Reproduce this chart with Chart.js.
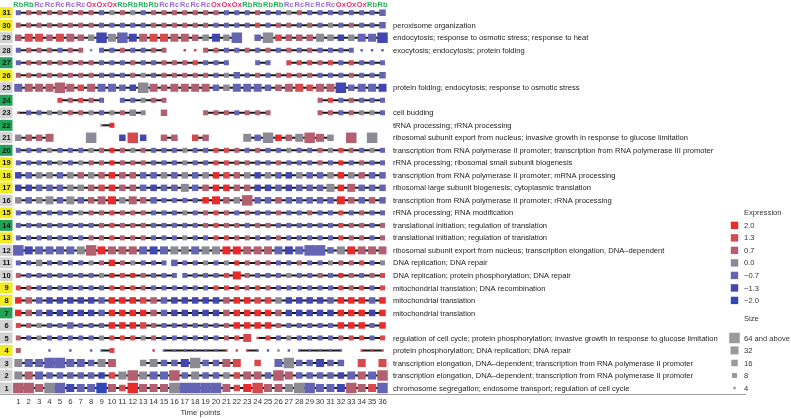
<!DOCTYPE html>
<html>
<head>
<meta charset="utf-8">
<script src="https://cdn.jsdelivr.net/npm/chart.js@4.4.1/dist/chart.umd.min.js"></script>
<style>
  html, body { margin: 0; padding: 0; background: #fff; }
</style>
</head>
<body>
<canvas id="clusterChart" width="791" height="418"></canvas>
<script>
const timePoints = [1,2,3,4,5,6,7,8,9,10,11,12,13,14,15,16,17,18,19,20,21,22,23,24,25,26,27,28,29,30,31,32,33,34,35,36];
const phases = ['Rb','Rb','Rc','Rc','Rc','Rc','Rc','Ox','Ox','Ox','Rb','Rb','Rb','Rb','Rc','Rc','Rc','Rc','Rc','Ox','Ox','Ox',
                'Rb','Rb','Rb','Rb','Rc','Rc','Rc','Rc','Rc','Ox','Ox','Ox','Rb','Rb'];
const clusterIds = [31,30,29,28,27,26,25,24,23,22,21,20,19,18,17,16,15,14,13,12,11,10,9,8,7,6,5,4,3,2,1];

// label tint of each cluster, cluster 1 first
const clusterGroups = ['gray','gray','gray','yellow','gray','gray','green','yellow','yellow','gray','gray','gray','yellow','green','yellow',
                       'gray','yellow','yellow','yellow','green','gray','green','gray','green','gray','yellow','green','gray','gray','yellow','yellow'];

// GO terms of each cluster, cluster 1 first
const clusterTerms = [
  'chromosome segregation; endosome transport; regulation of cell cycle',
  'transcription elongation, DNA\u2013dependent; transcription from RNA polymerase II promoter',
  'transcription elongation, DNA\u2013dependent; transcription from RNA polymerase II promoter',
  'protein phosphorylation; DNA replication; DNA repair',
  'regulation of cell cycle; protein phosphorylation; invasive growth in response to glucose limitation',
  '',
  'mitochondrial translation',
  'mitochondrial translation',
  'mitochondrial translation; DNA recombination',
  'DNA replication; protein phosphorylation; DNA repair',
  'DNA replication; DNA repair',
  'ribosomal subunit export from nucleus; transcription elongation, DNA\u2013dependent',
  'translational initiation; regulation of translation',
  'translational initiation; regulation of translation',
  'rRNA processing; RNA modification',
  'transcription from RNA polymerase II promoter; rRNA processing',
  'ribosomal large subunit biogenesis; cytoplasmic translation',
  'transcription from RNA polymerase II promoter; mRNA processing',
  'rRNA processing; ribosomal small subunit biogenesis',
  'transcription from RNA polymerase II promoter; transcription from RNA polymerase III promoter',
  'ribosomal subunit export from nucleus; invasive growth in response to glucose limitation',
  'tRNA processing; rRNA processing',
  'cell budding',
  '',
  'protein folding; endocytosis; response to osmotic stress',
  '',
  '',
  'exocytosis; endocytosis; protein folding',
  'endocytosis; response to osmotic stress; response to heat',
  'peroxisome organization',
  ''
];

const exprLevels = [2.0, 1.3, 0.7, 0.0, -0.7, -1.3, -2.0];
const exprLabels = ['2.0', '1.3', '0.7', '0.0', '\u22120.7', '\u22121.3', '\u22122.0'];
const exprCodes = { R: 2.0, r: 1.3, m: 0.7, g: 0.0, b: -0.7, B: -1.3, D: -2.0 };
const sizeLevels = [64, 32, 16, 8, 4];
const sizeLabels = ['64 and above', '32', '16', '8', '4'];
const sizeCodes = { '1': 4, '2': 8, '3': 16, '4': 32, '5': 64 };

// mean expression per time point, one code per point ('.' = cluster not present)
const exprRows = {
  31: 'bmmmmmmmbgmgbmmmmm' + 'mmbbbmbbgmbbbbbbbb',
  30: 'mmmmmmmmbbbbbmmmmm' + 'mbbbbrbmmbmbgbmbbb',
  29: 'mrrmrmmgBgbBmrrmmm' + 'gBgb.bgrmmmggBgbbB',
  28: 'bmmmbmmgbbmbbmm.rr' + 'mmbbmbmbmbmbbbbbbb',
  27: 'bmmmmmmmbbbmbbmmmr' + 'bbb..bb.rrrmrbrbbb',
  26: 'mmmmmmmmbbbmgbmmmm' + 'mbgbbmbmrmmbbbmbbb',
  25: 'bmmmmmrmbbbBgmmmmm' + 'mbgbbbbmmrrmmBbbbB',
  24: '....rmrmb.bbgmm...' + '...........mrbmbbb',
  23: 'rbbggmmgbgmgg.m...' + 'mmmbmmm....mmbmggb',
  22: '........gR........' + '..................',
  21: 'gmmm...g..BrB.mm.r' + 'm...gbgRmgmmg.m.g.',
  20: 'bbbgbbbgmRmgmbbbgb' + 'brrmbmbbgbbmgrmbgb',
  19: 'bbbbgbgmmRmmmbbbgb' + 'brrmmbbmbbbmbRbmbb',
  18: 'BbggbgmgmRmmbbgbgb' + 'gRrmgBgbBgbbgRgmbb',
  17: 'BBbbbggmrRmmbBbbgb' + 'mRRmmBBbBbbbgRmbbb',
  16: 'gbggbgbmmRgmmbbbbb' + 'RRmgmbbmbbbbbRmbmb',
  15: 'bbbbbbgmmrmmmbbbgb' + 'mrmbmbbmbbmbbrbmbb',
  14: 'bbbbbbbbmrmmmbbbbb' + 'mrmmbmmbbbbbbrmmbm',
  13: 'bbbbbbbmmrmmmbbbgb' + 'brrmmbbmbbbbbrmmbm',
  12: 'bBbbbbgmRmmmbBbggb' + 'ggRRmmmbBbbbbgRmmm',
  11: 'bbgbbbbgmRmgbbbbbb' + 'gbgRmmmbbmbbgmmrbg',
  10: 'mbbbbbbbgRrRmbbbbb' + 'bbrRmbbbgbbmbRmbmr',
  9:  'rmbbbbbbbrrrmbbbbb' + 'brrrmrmbbbbbbrmrbr',
  8:  'RmbBBBBBbRRRrmbBBB' + 'BBmRRrrgBBBBbRRRbR',
  7:  'RmbBBBBBbRRRRmbBBB' + 'BBmRRRRmBBBBBRRRBR',
  6:  'rmgbbbbbbRRRrmbbbb' + 'bbmRRRRmbbbbbRRRbR',
  5:  'mbgbbbbbgrrrgmbbbb' + 'bbmrrrrbgbbbbmrrbr',
  4:  'm..b.b.bbr...rbbbb' + 'bbrrrbbgbbbbbb.rrr',
  3:  'gbbbbbbbgm..ggbbBg' + 'bbmr.r.bgbbBbb.r.r',
  2:  'gmbbbbbbBrgmgbbmbg' + 'bbgrmmbmmbbbbBbmbm',
  1:  'mmmgbBbbDmrRmmmgbb' + 'bbmrRrmmggbbbBmmrb'
};

// number of genes per time point, coded by size class
const sizeRows = {
  31: '222222222222222222' + '222222222222222223',
  30: '222222222222222222' + '222222222222222223',
  29: '344344335454444443' + '3435.3533334333445',
  28: '222222212222222.11' + '222222222222222111',
  27: '222222222222222222' + '222..22.2222222222',
  26: '222222222222222222' + '222322222222222223',
  25: '444454344433543444' + '433444334434453444',
  24: '....22222.22222...' + '...........2222222',
  23: '1222222222232.3...' + '2222222....2222222',
  22: '........12........' + '..................',
  21: '3334...5..353.33.3' + '3...435334543.5.5.',
  20: '222222222222222222' + '222222222222222222',
  19: '222222222222222222' + '222222222222222222',
  18: '333333333333333333' + '333333333333333333',
  17: '333333333333333343' + '333333333333434333',
  16: '333434334434332222' + '343353333333343333',
  15: '222222222222222222' + '222222222222222222',
  14: '222222222222222222' + '222222222222222222',
  13: '222222222222222222' + '222222222222222222',
  12: '544444454444444444' + '444444444455344444',
  11: '223222222322222322' + '222222222222222222',
  10: '222222222222222222' + '222422222222222222',
  9:  '222222222222222222' + '222222222222222222',
  8:  '333333333333333333' + '333333333333333333',
  7:  '333333333333333333' + '333333333333333333',
  6:  '222223222333322222' + '222333322222233323',
  5:  '222222222222222222' + '222241222222222222',
  4:  '2..1.1.112...11111' + '11111111111111.111',
  3:  '4445544344..343345' + '3344.3.4533433.4.4',
  2:  '444333333345444534' + '333344354333334445',
  1:  '554554445435444555' + '554345444554445445'
};

// time points after which the cluster track is interrupted
const lineBreaks = {
  28: [7, 8, 17, 18, 33, 34, 35],
  21: [11, 12],
  11: [15],
  10: [16],
  5: [23],
  4: [8, 14, 21, 22, 24, 25, 26, 27]
};

const exprPalette = ['#ea2b2b', '#d64a4e', '#b25f70', '#8c8b95', '#6364b3', '#4247b0', '#2f4ab6'];
const sizeSide = { 4: 2.5, 8: 5, 16: 6.5, 32: 8, 64: 10.5 };
const groupColors = { yellow: '#f0ea22', green: '#21a257', gray: '#d2d2d2' };
const phaseColors = { Rb: '#2bae5e', Rc: '#9a6bd0', Ox: '#e8306a' };
const FONT = '"Liberation Sans", Arial, sans-serif';

function colorFor(v) {
  return exprPalette[exprLevels.indexOf(v)];
}

const datasets = [];
clusterIds.forEach(c => {
  const ex = exprRows[c], sz = sizeRows[c], br = lineBreaks[c] || [];
  const squares = [], track = [];
  for (let i = 0; i < timePoints.length; i++) {
    if (ex[i] === '.') continue;
    const t = timePoints[i];
    squares.push({ x: t, y: c, v: exprCodes[ex[i]], s: sizeCodes[sz[i]] });
    track.push({ x: t, y: c });
    if (i === timePoints.length - 1 || ex[i + 1] === '.' || br.includes(t)) {
      track.push({ x: t + 0.5, y: null });
    }
  }
  datasets.push({
    type: 'scatter',
    data: squares,
    order: 0,
    showLine: false,
    clip: false,
    pointStyle: 'rect',
    pointBorderWidth: 0,
    pointRadius: ctx => ctx.raw ? sizeSide[ctx.raw.s] * Math.SQRT1_2 : 3,
    pointBackgroundColor: ctx => ctx.raw ? colorFor(ctx.raw.v) : '#888'
  });
  datasets.push({
    type: 'line',
    data: track,
    order: 1,
    showLine: true,
    spanGaps: false,
    clip: false,
    borderColor: '#1b1b1b',
    borderWidth: 2,
    pointRadius: 0
  });
});

const overlay = {
  id: 'overlay',
  afterDraw(chart) {
    const { ctx, scales: { x, y } } = chart;
    ctx.save();

    // phase labels on top
    ctx.textAlign = 'center';
    ctx.textBaseline = 'middle';
    ctx.font = 'bold 7.5px ' + FONT;
    phases.forEach((p, i) => {
      ctx.fillStyle = phaseColors[p];
      ctx.fillText(p, x.getPixelForValue(timePoints[i]), 4.5);
    });

    // cluster number boxes
    clusterIds.forEach(c => {
      const py = y.getPixelForValue(c);
      ctx.fillStyle = groupColors[clusterGroups[c - 1]];
      ctx.fillRect(0, py - 5.5, 12.5, 11);
      ctx.fillStyle = '#111';
      ctx.fillText(String(c), 6.5, py + 0.5);
    });

    // GO term annotations
    ctx.textAlign = 'left';
    ctx.font = '7.6px ' + FONT;
    ctx.fillStyle = '#222';
    clusterIds.forEach(c => {
      const term = clusterTerms[c - 1];
      if (term) ctx.fillText(term, 393, y.getPixelForValue(c) + 0.5);
    });

    // bottom rule
    ctx.strokeStyle = '#a0a0a0';
    ctx.lineWidth = 1;
    ctx.beginPath();
    ctx.moveTo(0, 394.5);
    ctx.lineTo(746, 394.5);
    ctx.stroke();

    // expression legend
    const lx = 734.5, tx = 744;
    ctx.font = '7.6px ' + FONT;
    ctx.fillStyle = '#333';
    ctx.fillText('Expression', tx, y.getPixelForValue(15));
    exprLevels.forEach((v, k) => {
      const py = y.getPixelForValue(14 - k);
      ctx.fillStyle = exprPalette[k];
      ctx.fillRect(lx - 3.7, py - 3.7, 7.4, 7.4);
      ctx.fillStyle = '#333';
      ctx.fillText(exprLabels[k], tx, py + 0.5);
    });

    // size legend
    ctx.fillText('Size', tx, y.getPixelForValue(6.5));
    sizeLevels.forEach((s, k) => {
      const py = y.getPixelForValue(5 - k);
      const side = sizeSide[s];
      ctx.fillStyle = '#9a9a9a';
      ctx.fillRect(lx - side / 2, py - side / 2, side, side);
      ctx.fillStyle = '#333';
      ctx.fillText(sizeLabels[k], tx, py + 0.5);
    });

    ctx.restore();
  }
};

Chart.defaults.font.family = FONT;

new Chart(document.getElementById('clusterChart'), {
  type: 'scatter',
  data: { datasets },
  options: {
    responsive: false,
    animation: false,
    events: [],
    layout: { padding: { left: 18.3, right: 408.5, top: 12.7, bottom: 0 } },
    plugins: { legend: { display: false }, tooltip: { enabled: false } },
    scales: {
      x: {
        type: 'linear',
        min: 1,
        max: 36,
        grid: { display: false, drawTicks: false },
        border: { display: false },
        ticks: {
          stepSize: 1,
          autoSkip: false,
          maxRotation: 0,
          padding: 9,
          color: '#333',
          font: { size: 7.8 }
        },
        title: {
          display: true,
          text: 'Time points',
          color: '#333',
          font: { size: 7.8 },
          padding: { top: 0, bottom: 0 }
        },
        afterFit: s => { s.height = 30; }
      },
      y: { type: 'linear', min: 1, max: 31, display: false }
    }
  },
  plugins: [overlay]
});
</script>
</body>
</html>
